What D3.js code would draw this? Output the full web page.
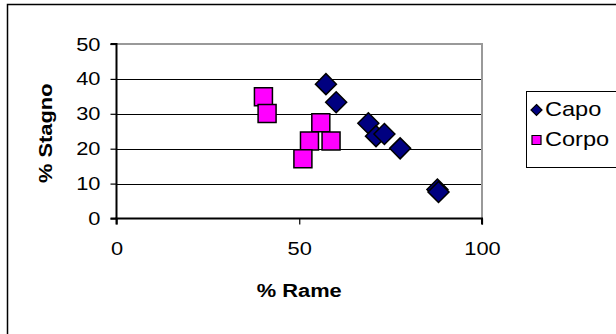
<!DOCTYPE html>
<html>
<head>
<meta charset="utf-8">
<script src="https://cdn.jsdelivr.net/npm/d3@7/dist/d3.min.js"></script>
<style>
  html, body { margin: 0; padding: 0; background: #fff; }
  svg { display: block; }
  text { font-family: "Liberation Sans", Arial, sans-serif; fill: #000; }
</style>
</head>
<body>
<svg id="chart" width="616" height="334"></svg>
<script>
// Series: % copper (x) vs % tin (y)
const capoRame   = [57.3, 60.1, 68.9, 71.0, 73.3, 77.6, 87.8, 88.1];
const capoStagno = [38.5, 33.3, 27.3, 23.6, 24.2, 20.1, 8.3, 7.6];
const corpoRame   = [40.2, 41.2, 55.9, 52.8, 58.7, 51.0];
const corpoStagno = [34.9, 30.1, 27.4, 22.2, 22.2, 17.1];

const xTicks = [0, 50, 100];
const yTicks = [0, 10, 20, 30, 40, 50];
const seriesNames = ["Capo", "Corpo"];

const STRETCH = 1.15;   // text is drawn slightly wide
const svg = d3.select("#chart");

// outer chart frame (right/bottom edges fall outside the view)
svg.append("rect")
  .attr("x", 7.5).attr("y", 4.5).attr("width", 640).attr("height", 360)
  .attr("fill", "#fff").attr("stroke", "#000").attr("stroke-width", 1.5);

const x = d3.scaleLinear().domain([0, 100]).range([116.5, 482]);
const y = d3.scaleLinear().domain([0, 50]).range([218.5, 44]);

// horizontal gridlines
svg.append("g").selectAll("line")
  .data(yTicks.filter(v => v > 0 && v < 50))
  .join("line")
  .attr("x1", x(0)).attr("x2", x(100))
  .attr("y1", d => Math.round(y(d)) + 0.5).attr("y2", d => Math.round(y(d)) + 0.5)
  .attr("stroke", "#000").attr("stroke-width", 1);

// plot-area border (top and right)
svg.append("path")
  .attr("d", `M${x(0)},${y(50)}H${x(100)}V${y(0)}`)
  .attr("fill", "none").attr("stroke", "#999").attr("stroke-width", 2);

// axes
const yAxis = d3.axisLeft(y).tickValues(yTicks).tickSize(6).tickPadding(10);
const gy = svg.append("g").attr("transform", `translate(${x(0)},0)`).call(yAxis);
const xAxis = d3.axisBottom(x).tickValues(xTicks).tickSize(6).tickPadding(17);
const gx = svg.append("g").attr("transform", `translate(0,${y(0)})`).call(xAxis);

[gy, gx].forEach(g => {
  g.select(".domain").attr("stroke", "#000").attr("stroke-width", 2);
  g.selectAll(".tick line").attr("stroke", "#000").attr("stroke-width", 1.2);
  g.selectAll(".tick text")
    .attr("font-family", "Liberation Sans, Arial, sans-serif")
    .attr("font-size", 19).attr("fill", "#000")
    .attr("transform", `scale(${STRETCH},1)`);
});
gy.selectAll(".tick text").attr("x", -16 / STRETCH);
gy.select(".domain").attr("d", `M-6,${y(50)}H0V${y(0)}H-6`);
gx.select(".domain").attr("d", `M${x(0)},6V0H${x(100)}V6`);

// axis titles
svg.append("text")
  .attr("transform", `translate(${x(50)},292) scale(${STRETCH},1)`)
  .attr("text-anchor", "middle").attr("dominant-baseline", "middle")
  .attr("font-weight", "bold").attr("font-size", 19)
  .text("% Rame");
svg.append("text")
  .attr("transform", `translate(47,${y(25) + 2}) rotate(-90) scale(${STRETCH},1)`)
  .attr("text-anchor", "middle").attr("dominant-baseline", "middle")
  .attr("font-weight", "bold").attr("font-size", 19)
  .text("% Stagno");

// marker shapes
const diamond = r => `M0,${-r}L${r},0L0,${r}L${-r},0Z`;
const square = s => `M${-s/2},${-s/2}h${s}v${s}h${-s}Z`;

const capo = capoRame.map((v, i) => ({ r: v, s: capoStagno[i] }));
const corpo = corpoRame.map((v, i) => ({ r: v, s: corpoStagno[i] }));

svg.append("g").selectAll("path")
  .data(capo).join("path")
  .attr("transform", d => `translate(${x(d.r)},${y(d.s)})`)
  .attr("d", diamond(10.5))
  .attr("fill", "#000080").attr("stroke", "#000").attr("stroke-width", 1.5);

svg.append("g").selectAll("path")
  .data(corpo).join("path")
  .attr("transform", d => `translate(${x(d.r)},${y(d.s)})`)
  .attr("d", square(18))
  .attr("fill", "#ff00ff").attr("stroke", "#000").attr("stroke-width", 1.5);

// legend
const lg = svg.append("g");
lg.append("rect")
  .attr("x", 526.5).attr("y", 91.5).attr("width", 120).attr("height", 76)
  .attr("fill", "#fff").attr("stroke", "#000").attr("stroke-width", 1);
const items = lg.selectAll("g.item")
  .data(seriesNames).join("g").attr("class", "item")
  .attr("transform", (d, i) => `translate(536.5,${110 + i * 30})`);
items.append("path")
  .attr("d", (d, i) => i === 0 ? diamond(5.5) : square(9))
  .attr("fill", (d, i) => i === 0 ? "#000080" : "#ff00ff")
  .attr("stroke", "#000").attr("stroke-width", 1.2);
items.append("text")
  .attr("transform", `translate(8.5,1) scale(${STRETCH},1)`)
  .attr("dominant-baseline", "middle")
  .attr("font-size", 20.5)
  .text(d => d);
</script>
</body>
</html>
